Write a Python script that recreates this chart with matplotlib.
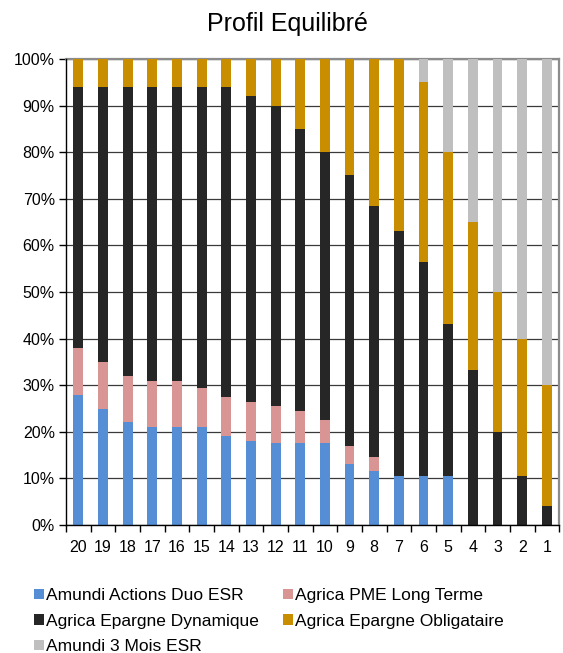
import numpy as np
import matplotlib.pyplot as plt
from matplotlib.patches import Patch
from matplotlib.ticker import PercentFormatter, FixedLocator

plt.rcParams['font.family'] = ['Liberation Sans', 'DejaVu Sans']

# Years before retirement (left to right)
categories = ['20', '19', '18', '17', '16', '15', '14', '13', '12', '11',
              '10', '9', '8', '7', '6', '5', '4', '3', '2', '1']

# Allocation per fund, in %
actions_duo = [28, 25, 22, 21, 21, 21, 19, 18, 17.5, 17.5,
               17.5, 13, 11.5, 10.5, 10.5, 10.5, 0, 0, 0, 0]
pme_long = [10, 10, 10, 10, 10, 8.5, 8.5, 8.5, 8, 7,
            5, 4, 3, 0, 0, 0, 0, 0, 0, 0]
epargne_dyn = [56, 59, 62, 63, 63, 64.5, 66.5, 65.5, 64.5, 60.5,
               57.5, 58, 54, 52.5, 46, 32.7, 33.3, 20, 10.5, 4]
epargne_oblig = [6, 6, 6, 6, 6, 6, 6, 8, 10, 15,
                 20, 25, 31.5, 37, 38.5, 36.8, 31.7, 30, 29.5, 26]
trois_mois = [0, 0, 0, 0, 0, 0, 0, 0, 0, 0,
              0, 0, 0, 0, 5, 20, 35, 50, 60, 70]

series = [
    ("Amundi Actions Duo ESR", actions_duo, "#558ED5"),
    ("Agrica PME Long Terme", pme_long, "#D99594"),
    ("Agrica Epargne Dynamique", epargne_dyn, "#262626"),
    ("Agrica Epargne Obligataire", epargne_oblig, "#C98E00"),
    ("Amundi 3 Mois ESR", trois_mois, "#BFBFBF"),
]

fig = plt.figure(figsize=(5.63, 6.53), dpi=100)
ax = fig.add_axes([0.1172, 0.196, 0.876, 0.7137])

x = np.arange(len(categories))
bottom = np.zeros(len(categories))
handles = {}
for name, vals, color in series:
    vals = np.array(vals, dtype=float)
    ax.bar(x, vals, width=0.4, bottom=bottom, color=color, zorder=3,
           edgecolor='none')
    bottom += vals
    handles[name] = Patch(facecolor=color, edgecolor='none', label=name)

ax.set_xlim(-0.5, len(categories) - 0.5)
ax.set_ylim(0, 100)
ax.set_yticks(np.arange(0, 101, 10))
ax.yaxis.set_major_formatter(PercentFormatter(decimals=0))
ax.yaxis.grid(True, color='#3a3a3a', linewidth=0.9, zorder=0)

ax.set_xticks(x)
ax.set_xticklabels(categories)
ax.xaxis.set_minor_locator(FixedLocator(np.arange(-0.5, len(categories), 1)))
ax.tick_params(axis='x', which='major', length=0, pad=11, labelsize=11.5)
ax.tick_params(axis='x', which='minor', length=5, width=1, direction='out')
ax.tick_params(axis='y', length=5, width=1, direction='out', labelsize=11.5,
               pad=3)

ax.spines['left'].set_color('black')
ax.spines['bottom'].set_color('black')
ax.spines['top'].set_color('#8c8c8c')
ax.spines['right'].set_color('#8c8c8c')
ax.spines['top'].set_linewidth(1.6)
ax.spines['right'].set_linewidth(1.6)
for s in ('left', 'bottom'):
    ax.spines[s].set_linewidth(1.0)
    ax.spines[s].set_zorder(4)

fig.text(0.51, 0.964, "Profil Equilibré", ha='center', va='center',
         fontsize=18)

order = ["Amundi Actions Duo ESR", "Agrica Epargne Dynamique",
         "Amundi 3 Mois ESR", "Agrica PME Long Terme",
         "Agrica Epargne Obligataire"]
fig.legend(handles=[handles[n] for n in order], ncol=2, frameon=False,
           loc='upper left', bbox_to_anchor=(0.061, 0.099),
           fontsize=12.5, handlelength=0.55, handleheight=0.55,
           handletextpad=0.15, columnspacing=1.37, labelspacing=0.6,
           borderaxespad=0, borderpad=0)

fig.savefig("out.png", dpi=100)
